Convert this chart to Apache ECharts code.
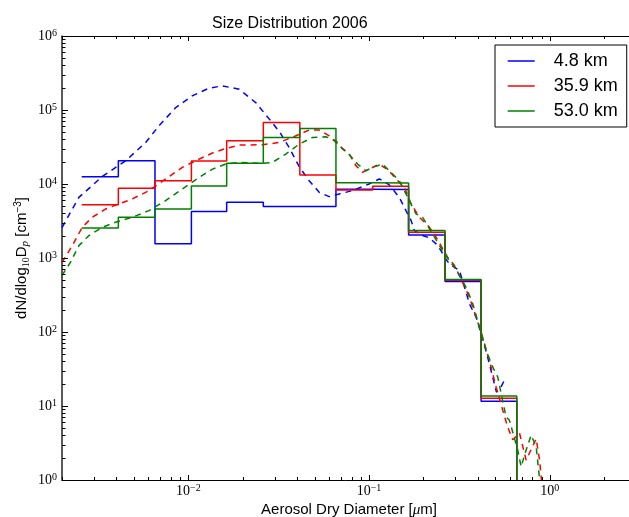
<!DOCTYPE html>
<html><head><meta charset="utf-8">
<script src="https://cdn.jsdelivr.net/npm/echarts@6/dist/echarts.min.js"></script>
<style>html,body{margin:0;padding:0;background:#fff;overflow:hidden}#c{width:629px;height:517px}</style>
</head><body><div id="c"></div>
<script>
// ---- data ----
const seriesNames = ['4.8 km', '35.9 km', '53.0 km'];
const seriesColors = ['#0000ff', '#ff0000', '#008000'];
const binEdges = [0.00257, 0.00410, 0.00654, 0.0104, 0.0163, 0.0260, 0.0414, 0.0656, 0.1047, 0.1655, 0.2633, 0.4169, 0.6567];
const histBlue  = [12560, 20600, 1560, 4240, 5650, 4950, 4950, 8500, 8400, 2040, 482, 11.6];
const histRed   = [5260, 8730, 11100, 20400, 38400, 67700, 13200, 8300, 9300, 2220, 500, 12.7];
const histGreen = [2550, 3550, 4600, 9400, 19000, 42500, 56300, 10400, 10300, 2350, 513, 13.6];
const fitBlue = [
  [0.002, 2580], [0.00248, 6600], [0.00334, 12600], [0.0045, 20600], [0.00581, 36400],
  [0.00688, 61100], [0.00852, 108000], [0.0105, 155000], [0.0130, 197000], [0.0154, 212000],
  [0.0191, 191000], [0.0236, 126000], [0.0291, 67700], [0.0325, 47700], [0.0361, 31200],
  [0.0411, 17100], [0.0466, 11100], [0.0530, 7710], [0.0602, 6750], [0.0684, 7340],
  [0.0807, 8130], [0.100, 10000], [0.114, 11700], [0.129, 9790], [0.147, 6600],
  [0.160, 4370], [0.171, 3200], [0.178, 2350], [0.198, 2010], [0.216, 1870],
  [0.235, 1550], [0.250, 1260], [0.261, 1030], [0.278, 835], [0.316, 680],
  [0.344, 346], [0.359, 241], [0.391, 159], [0.417, 95], [0.453, 46],
  [0.483, 24.7], [0.507, 15.4], [0.533, 17.4], [0.561, 22.3]
];
const fitRed = [
  [0.002, 870], [0.00228, 1470], [0.00259, 2600], [0.00294, 3550], [0.00349, 4600],
  [0.00413, 5380], [0.00490, 6280], [0.00606, 8130], [0.00749, 11700], [0.00926, 16750],
  [0.0115, 21750], [0.0136, 26200], [0.0161, 30200], [0.0191, 33600], [0.0257, 33900],
  [0.0318, 36400], [0.0394, 44800], [0.0466, 53500], [0.0530, 53500], [0.0602, 44800],
  [0.0684, 32900], [0.0777, 25400], [0.0846, 17700], [0.0920, 14400], [0.100, 15900],
  [0.114, 18600], [0.129, 15100], [0.141, 11700], [0.157, 9000], [0.171, 5380],
  [0.190, 3550], [0.216, 2600], [0.235, 1910], [0.250, 1470], [0.272, 1025],
  [0.297, 792], [0.316, 581], [0.359, 296], [0.417, 100], [0.463, 41.5],
  [0.505, 17.9], [0.549, 8.8], [0.585, 5.2], [0.624, 3.5], [0.680, 4.3],
  [0.740, 1.86], [0.841, 3.6], [0.877, 1.9], [0.900, 1.0]
];
const fitGreen = [
  [0.002, 580], [0.00223, 880], [0.00248, 1470], [0.00282, 2010], [0.00334, 2600],
  [0.00396, 3040], [0.00490, 3550], [0.00606, 4370], [0.00749, 5960], [0.00926, 8570],
  [0.0115, 12300], [0.0136, 15900], [0.0161, 18600], [0.0191, 19600], [0.0257, 19000],
  [0.0292, 19600], [0.0346, 25400], [0.0411, 34600], [0.0486, 42500], [0.0577, 43500],
  [0.0656, 38400], [0.0713, 29700], [0.0777, 24900], [0.0864, 18600], [0.0961, 15100],
  [0.1045, 16750], [0.1188, 18600], [0.135, 13650], [0.147, 11100], [0.167, 5960],
  [0.182, 3950], [0.198, 3550], [0.216, 2480], [0.230, 1910], [0.255, 1260],
  [0.278, 925], [0.297, 751], [0.344, 404], [0.375, 241], [0.408, 117],
  [0.444, 56.6], [0.483, 33.7], [0.515, 24.7], [0.538, 14.8], [0.573, 7.1],
  [0.598, 6.4], [0.665, 2.54], [0.694, 1.51], [0.740, 2.54], [0.789, 4.04],
  [0.841, 2.81], [0.877, 1.06]
];
// ---- axes / ticks ----
const xRange = [0.002, 3];
const yRange = [1, 1e6];
const xMajorTicks = [0.01, 0.1, 1];
const yMajorTicks = [1, 10, 100, 1e3, 1e4, 1e5, 1e6];
const minorMultiples = [2, 3, 4, 5, 6, 7, 8, 9];
const xMinorDecades = [0.001, 0.01, 0.1, 1];
const yMinorDecades = [1, 10, 100, 1e3, 1e4, 1e5];

function minorTicks(decades, range) {
  const out = [];
  decades.forEach(d => minorMultiples.forEach(m => {
    const v = +(d * m).toPrecision(6);
    if (v >= range[0] - 1e-12 && v <= range[1] + 1e-12) out.push(v);
  }));
  return out;
}
const xTickData = xMajorTicks.map(v => [v, 1, 1]).concat(minorTicks(xMinorDecades, xRange).map(v => [v, 1, 0]));
const yTickData = yMajorTicks.map(v => [0.002, v, 1]).concat(minorTicks(yMinorDecades, yRange).map(v => [0.002, v, 0]));

function stepPoints(edges, vals) {
  const pts = [];
  for (let i = 0; i < vals.length; i++) {
    pts.push([edges[i], vals[i]]);
    pts.push([edges[i + 1], vals[i]]);
  }
  pts.push([edges[edges.length - 1], yRange[0]]);
  return pts;
}

function powLabel(v) {
  const l = Math.log10(v);
  const e = Math.round(l);
  if (Math.abs(l - e) > 1e-6) return '';
  return '{b|10}{s|' + (e < 0 ? '\u2212' + (-e) : e) + '}';
}
const tickRich = {
  b: { fontSize: 14, fontFamily: 'Liberation Serif', lineHeight: 16, color: '#000' },
  s: { fontSize: 10, fontFamily: 'Liberation Serif', lineHeight: 6, verticalAlign: 'top', color: '#000' }
};

const chart = echarts.init(document.getElementById('c'), null, { renderer: 'canvas' });

const hists = [histBlue, histRed, histGreen];
const fits = [fitBlue, fitRed, fitGreen];
const series = [];
for (let i = 0; i < 3; i++) {
  series.push({
    type: 'line', name: seriesNames[i], data: stepPoints(binEdges, hists[i]),
    symbol: 'none', showSymbol: false, clip: true, z: 3,
    lineStyle: { color: seriesColors[i], width: 1.5 }, itemStyle: { color: seriesColors[i] }
  });
  series.push({
    type: 'line', name: seriesNames[i] + ' fit', data: fits[i],
    symbol: 'none', showSymbol: false, clip: true, z: 3,
    lineStyle: { color: seriesColors[i], width: 1.5, type: [6, 5] }, itemStyle: { color: seriesColors[i] }
  });
}
series.push({
  type: 'custom', name: 'xticks', silent: true, z: 10, clip: false,
  encode: { x: 0, y: 1 }, data: xTickData,
  renderItem: function (params, api) {
    const cs = params.coordSys;
    const px = Math.round(api.coord([api.value(0), 1])[0]) + 0.5;
    const len = api.value(2) === 1 ? 5 : 3;
    const b = cs.y + cs.height, t = cs.y;
    return { type: 'group', children: [
      { type: 'line', shape: { x1: px, y1: b, x2: px, y2: b - len }, style: { stroke: '#000', lineWidth: 1 } },
      { type: 'line', shape: { x1: px, y1: t, x2: px, y2: t + len }, style: { stroke: '#000', lineWidth: 1 } }
    ] };
  }
});
series.push({
  type: 'custom', name: 'yticks', silent: true, z: 10, clip: false,
  encode: { x: 0, y: 1 }, data: yTickData,
  renderItem: function (params, api) {
    const cs = params.coordSys;
    const py = Math.round(api.coord([0.002, api.value(1)])[1]) + 0.5;
    const len = api.value(2) === 1 ? 6 : 3.5;
    const l = cs.x, r = cs.x + cs.width;
    return { type: 'group', children: [
      { type: 'line', shape: { x1: l, y1: py, x2: l + len, y2: py }, style: { stroke: '#000', lineWidth: 1 } },
      { type: 'line', shape: { x1: r, y1: py, x2: r - len, y2: py }, style: { stroke: '#000', lineWidth: 1 } }
    ] };
  }
});

chart.setOption({
  animation: false,
  backgroundColor: '#fff',
  title: {
    text: 'Size Distribution 2006', left: 212, top: 16, padding: 0,
    textStyle: { fontSize: 16, fontWeight: 'normal', fontFamily: 'Liberation Sans', color: '#000' }
  },
  grid: { left: 62, right: -7, top: 36, bottom: 37, containLabel: false, outerBoundsMode: 'none' },
  legend: {
    orient: 'vertical', left: 495, top: 45, padding: [7, 9, 7, 12.7], itemGap: 7,
    itemWidth: 27, itemHeight: 1.5, icon: 'rect', borderColor: '#000', borderWidth: 1, borderRadius: 0,
    backgroundColor: '#fff', selectedMode: false, data: seriesNames,
    textStyle: { fontSize: 18, fontFamily: 'Liberation Sans', color: '#000', lineHeight: 18, padding: [0, 0, 0, 14] }
  },
  xAxis: [{
    type: 'log', logBase: 10, min: xRange[0], max: xRange[1], position: 'bottom', splitNumber: 3,
    splitLine: { show: false }, axisTick: { show: false },
    axisLine: { show: true, lineStyle: { color: '#000', width: 1 } },
    axisLabel: { margin: 3, formatter: powLabel, rich: tickRich },
    name: '{t|Aerosol Dry Diameter [}{mu|\u03bc}{t|m]}', nameLocation: 'middle', nameGap: 21,
    nameMoveOverlap: false,
    nameTextStyle: { rich: {
      t: { fontSize: 15, fontFamily: 'Liberation Sans', color: '#000', lineHeight: 18 },
      mu: { fontSize: 15, fontFamily: 'Liberation Serif', fontStyle: 'italic', color: '#000', lineHeight: 18 }
    } }
  }, {
    type: 'log', logBase: 10, min: xRange[0], max: xRange[1], position: 'top', splitNumber: 3,
    splitLine: { show: false }, axisTick: { show: false }, axisLabel: { show: false },
    axisLine: { show: true, lineStyle: { color: '#000', width: 1 } }
  }],
  yAxis: [{
    type: 'log', logBase: 10, min: yRange[0], max: yRange[1], position: 'left',
    splitLine: { show: false }, axisTick: { show: false },
    axisLine: { show: true, lineStyle: { color: '#222', width: 1.5 } },
    axisLabel: { margin: 5, formatter: powLabel, rich: tickRich },
    name: '{t|dN/dlog}{sub|10}{t|D}{subi|p}{t| [cm}{sup|\u22123}{t|]}',
    nameLocation: 'middle', nameGap: 31, nameRotate: 90, nameMoveOverlap: false,
    nameTextStyle: { rich: {
      t: { fontSize: 15, fontFamily: 'Liberation Sans', color: '#000', lineHeight: 18 },
      sub: { fontSize: 10, fontFamily: 'Liberation Serif', color: '#000', lineHeight: 10, verticalAlign: 'bottom' },
      subi: { fontSize: 11, fontFamily: 'Liberation Serif', fontStyle: 'italic', color: '#000', lineHeight: 10, verticalAlign: 'bottom' },
      sup: { fontSize: 10, fontFamily: 'Liberation Sans', color: '#000', lineHeight: 8, verticalAlign: 'top' }
    } }
  }],
  series: series
});
</script></body></html>
